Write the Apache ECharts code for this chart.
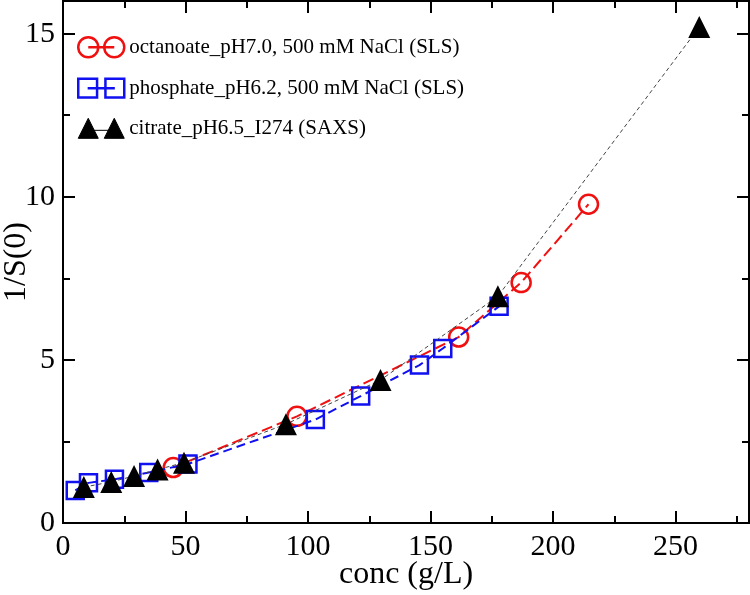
<!DOCTYPE html>
<html>
<head>
<meta charset="utf-8">
<script src="https://cdn.jsdelivr.net/npm/echarts@6/dist/echarts.min.js"></script>
<style>html,body{margin:0;padding:0;background:#fff}#c{width:750px;height:595px}</style>
</head>
<body>
<div id="c"></div>
<script>
const octX = [45, 95.5, 161.5, 187, 214.5];
const octY = [1.7, 3.27, 5.7, 7.37, 9.77];
const phosX = [5, 10.4, 21, 35, 51, 103, 121.5, 145.5, 155, 178];
const phosY = [1.0, 1.23, 1.34, 1.55, 1.81, 3.17, 3.89, 4.84, 5.35, 6.64];
const citX = [8.5, 19.7, 29, 38.6, 49.4, 91, 129.6, 177.5, 259.7];
const citY = [1.1, 1.26, 1.44, 1.64, 1.85, 3.03, 4.38, 6.95, 15.2];
const names = ['octanoate_pH7.0, 500 mM NaCl (SLS)', 'phosphate_pH6.2, 500 mM NaCl (SLS)', 'citrate_pH6.5_I274 (SAXS)'];
const xName = 'conc (g/L)';
const yName = '1/S(0)';

const FONT = 'Liberation Serif';
const RED = '#f01010', BLUE = '#1010f0', BLACK = '#000';
const pair = (xs, ys) => xs.map((x, i) => [x, ys[i]]);

function xAx(pos, interval, len, labels) {
  return {
    type: 'value', position: pos, min: 0, max: 280, interval: interval,
    axisLine: {show: true, onZero: false, lineStyle: {color: '#000', width: 2}},
    axisTick: {show: true, inside: true, length: len, lineStyle: {color: '#000', width: 2}},
    splitLine: {show: false},
    axisLabel: labels ? {show: true, margin: 9, color: '#000', fontFamily: FONT, fontSize: 30, showMaxLabel: false} : {show: false},
    name: labels ? xName : '', nameLocation: 'middle', nameGap: 36, nameMoveOverlap: false,
    nameTextStyle: {color: '#000', fontFamily: FONT, fontSize: 32}
  };
}
function yAx(pos, interval, len, labels) {
  return {
    type: 'value', position: pos, min: 0, max: 16, interval: interval,
    axisLine: {show: true, onZero: false, lineStyle: {color: '#000', width: 2}},
    axisTick: {show: true, inside: true, length: len, lineStyle: {color: '#000', width: 2}},
    splitLine: {show: false},
    axisLabel: labels ? {show: true, margin: 8, color: '#000', fontFamily: FONT, fontSize: 30, showMaxLabel: false} : {show: false},
    name: labels ? yName : '', nameLocation: 'middle', nameGap: 30, nameRotate: 90, nameMoveOverlap: false,
    nameTextStyle: {color: '#000', fontFamily: FONT, fontSize: 32}
  };
}

const option = {
  backgroundColor: '#fff',
  animation: false,
  grid: {left: 63, right: 1, top: 1, bottom: 72, containLabel: false, outerBoundsMode: 'none'},
  xAxis: [xAx('bottom', 50, 12, true), xAx('bottom', 25, 7, false), xAx('top', 50, 12, false), xAx('top', 25, 7, false)],
  yAxis: [yAx('left', 5, 12, true), yAx('left', 2.5, 7, false), yAx('right', 5, 12, false), yAx('right', 2.5, 7, false)],
  legend: {
    orient: 'vertical', left: 72, top: 31,
    itemWidth: 46, itemHeight: 20, itemGap: 19,
    textStyle: {color: '#000', fontFamily: FONT, fontSize: 21, lineHeight: 20, padding: [0, 0, 0, 0]},
    data: [
      {name: names[0], icon: 'path://M0,10a10,10 0 1,0 20,0a10,10 0 1,0 -20,0Z M26,10a10,10 0 1,0 20,0a10,10 0 1,0 -20,0Z M10,10L36,10',
       itemStyle: {color: 'rgba(0,0,0,0)', borderColor: RED, borderWidth: 2.5}},
      {name: names[1], icon: 'path://M1,1H19V19H1Z M27,1H45V19H27Z M10,10L36,10',
       itemStyle: {color: 'rgba(0,0,0,0)', borderColor: BLUE, borderWidth: 2.5}},
      {name: names[2], icon: 'path://M10,0L20,20L0,20Z M36,0L46,20L26,20Z M10,12L36,12',
       itemStyle: {color: BLACK, borderColor: BLACK, borderWidth: 1}}
    ]
  },
  series: [
    {name: names[0], type: 'line', xAxisIndex: 0, yAxisIndex: 0, data: pair(octX, octY),
     symbol: 'circle', symbolSize: 19,
     itemStyle: {color: 'rgba(0,0,0,0)', borderColor: RED, borderWidth: 2.5},
     lineStyle: {color: RED, width: 2, type: [11, 5]}, z: 2},
    {name: names[1], type: 'line', xAxisIndex: 0, yAxisIndex: 0, data: pair(phosX, phosY),
     symbol: 'rect', symbolSize: 17,
     itemStyle: {color: 'rgba(0,0,0,0)', borderColor: BLUE, borderWidth: 2.5},
     lineStyle: {color: BLUE, width: 2, type: [9, 5]}, z: 3},
    {name: names[2], type: 'line', xAxisIndex: 0, yAxisIndex: 0, data: pair(citX, citY),
     symbol: 'triangle', symbolSize: 22,
     itemStyle: {color: BLACK, borderColor: BLACK, borderWidth: 0},
     lineStyle: {color: '#444', width: 1, type: [4, 3]}, z: 4}
  ]
};
const chart = echarts.init(document.getElementById('c'), null, {renderer: 'canvas'});
chart.setOption(option);
</script>
</body>
</html>
